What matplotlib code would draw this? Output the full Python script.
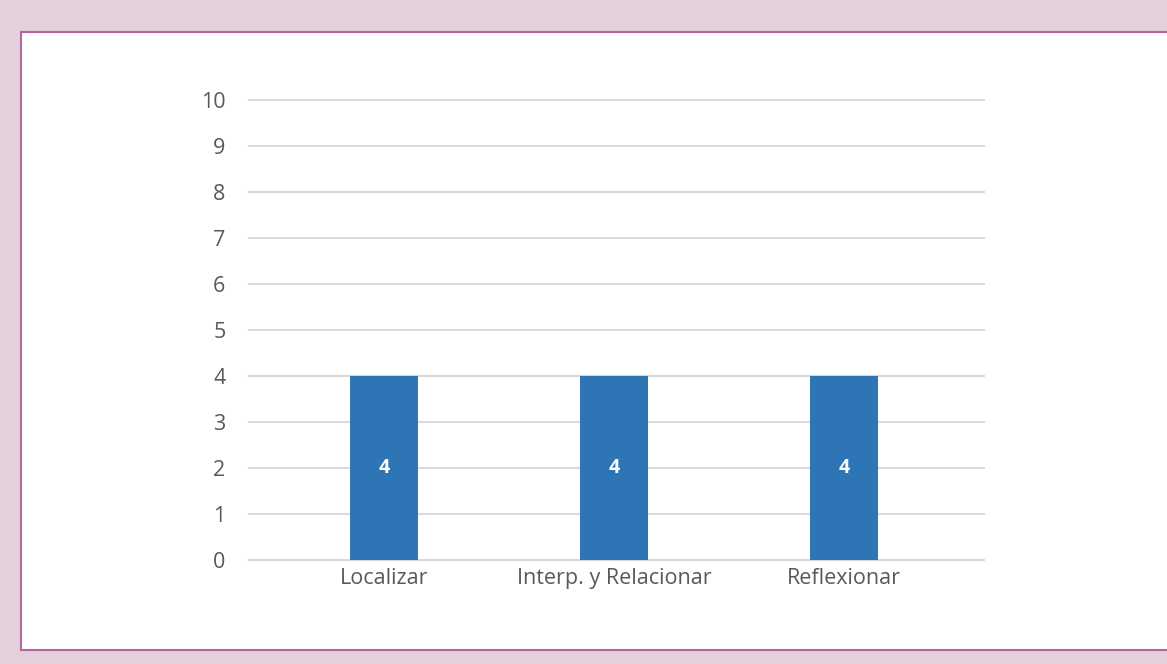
import matplotlib
matplotlib.use('Agg')
import matplotlib.pyplot as plt
from matplotlib.patches import Rectangle

categories = ['Localizar', 'Interp. y Relacionar', 'Reflexionar']
values = [4, 4, 4]
yticks = list(range(0, 11))

W, H = 1167, 664
fig = plt.figure(figsize=(W / 100, H / 100), dpi=100)
fig.patch.set_facecolor('#E2D1DC')

# white panel with magenta border, kept behind the axes
panel = Rectangle((21 / W, 1 - 650 / H), (W + 10 - 21) / W, (650 - 32) / H,
                  transform=fig.transFigure, facecolor='white',
                  edgecolor='#B564A4', linewidth=1.5, zorder=-10)
fig.patches.append(panel)

ax = fig.add_axes([249 / W, 1 - 560 / H, (984 - 249) / W, (560 - 100) / H])
ax.set_zorder(1)
ax.set_facecolor('none')

x = list(range(len(categories)))
bars = ax.bar(x, values, width=0.296, color='#2E75B6', zorder=3)
for b, v in zip(bars, values):
    ax.text(b.get_x() + b.get_width() / 2, v / 2, str(v), ha='center', va='center',
            color='white', fontsize=14, fontweight='bold', family='Open Sans', zorder=4)

ax.set_xlim(-0.587, 2.609)
ax.set_ylim(0, 10)
ax.set_yticks(yticks)
ax.set_xticks(x)
ax.set_xticklabels(categories)
ax.yaxis.grid(True, color='#D9D9D9', linewidth=1.5, zorder=0)
for gl in ax.yaxis.get_gridlines():
    gl.set_clip_on(False)
ax.set_axisbelow(True)
for s in ax.spines.values():
    s.set_visible(False)
ax.tick_params(length=0, labelsize=15.5, labelcolor='#595959')
ax.tick_params(axis='y', pad=17)
ax.tick_params(axis='x', pad=6)
for lab in ax.get_xticklabels() + ax.get_yticklabels():
    lab.set_family('Open Sans')

fig.savefig('out.png', dpi=100, facecolor=fig.get_facecolor())
